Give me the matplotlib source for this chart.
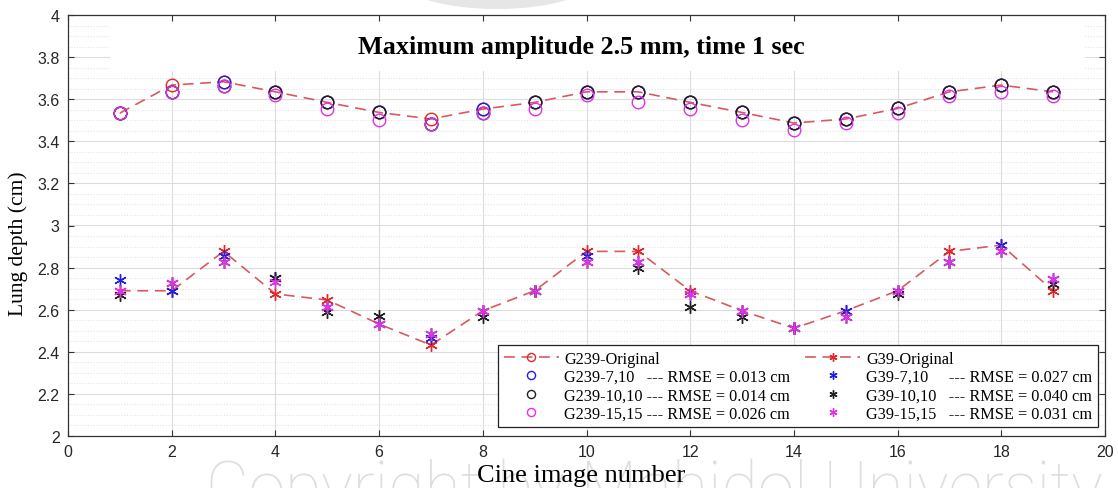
import matplotlib
matplotlib.use("Agg")
import matplotlib.pyplot as plt
from matplotlib.patches import Rectangle, Ellipse
from matplotlib.ticker import MultipleLocator, FormatStrFormatter
import numpy as np

# Cine image frame numbers
frames = list(range(1, 20))

# Lung depth (cm) of the G239 marker: original and three reconstructions
g239_original = [3.534, 3.667, 3.683, 3.635, 3.585, 3.537, 3.506, 3.553, 3.585, 3.635,
                 3.635, 3.585, 3.537, 3.487, 3.506, 3.556, 3.635, 3.667, 3.635]
g239_7_10 = [3.534, 3.635, 3.683, 3.635, 3.585, 3.537, 3.480, 3.553, 3.585, 3.635,
             3.635, 3.585, 3.537, 3.487, 3.506, 3.556, 3.635, 3.667, 3.635]
g239_10_10 = [3.534, 3.635, 3.664, 3.635, 3.585, 3.537, 3.480, 3.534, 3.585, 3.635,
              3.635, 3.585, 3.537, 3.487, 3.506, 3.556, 3.635, 3.667, 3.635]
g239_15_15 = [3.534, 3.635, 3.664, 3.620, 3.553, 3.500, 3.480, 3.534, 3.553, 3.620,
              3.585, 3.553, 3.500, 3.455, 3.485, 3.534, 3.615, 3.635, 3.615]

# Lung depth (cm) of the G39 marker: original and three reconstructions
g39_original = [2.690, 2.690, 2.877, 2.675, 2.646, 2.532, 2.432, 2.595, 2.690, 2.877,
                2.877, 2.690, 2.595, 2.512, 2.595, 2.690, 2.877, 2.907, 2.690]
g39_7_10 = [2.742, 2.690, 2.857, 2.749, 2.614, 2.532, 2.464, 2.595, 2.690, 2.857,
            2.825, 2.675, 2.595, 2.512, 2.595, 2.690, 2.825, 2.907, 2.745]
g39_10_10 = [2.670, 2.725, 2.825, 2.749, 2.590, 2.568, 2.485, 2.564, 2.690, 2.825,
             2.800, 2.614, 2.564, 2.512, 2.564, 2.675, 2.825, 2.877, 2.722]
g39_15_15 = [2.690, 2.725, 2.825, 2.730, 2.614, 2.532, 2.485, 2.595, 2.690, 2.825,
             2.825, 2.675, 2.595, 2.512, 2.564, 2.690, 2.825, 2.877, 2.745]

labels_g239 = ["G239-Original",
               "G239-7,10   --- RMSE = 0.013 cm",
               "G239-10,10 --- RMSE = 0.014 cm",
               "G239-15,15 --- RMSE = 0.026 cm"]
labels_g39 = ["G39-Original",
              "G39-7,10     --- RMSE = 0.027 cm",
              "G39-10,10   --- RMSE = 0.040 cm",
              "G39-15,15   --- RMSE = 0.031 cm"]

title_text = "Maximum amplitude 2.5 mm, time 1 sec"
xlabel_text = "Cine image number"
ylabel_text = "Lung depth (cm)"
watermark_text = "Copyright by Mahidol University"

serif = "Liberation Serif"
sans = "Liberation Sans"

fig = plt.figure(figsize=(11.18, 4.89), dpi=100)
ax = fig.add_axes([68 / 1118, 1 - 437 / 489, 1037 / 1118, 421 / 489])

# faint watermark behind everything
fig.text(206 / 1118, -20 / 489, watermark_text, fontsize=47.5, family=["Roboto", sans],
         fontweight="light", color="#dedede", ha="left", va="baseline", zorder=-1)
fig.patches.append(Ellipse((497 / 1118, 1 + 22 / 489), 200 / 1118, 64 / 489,
                           transform=fig.transFigure, facecolor="#e6e6e6",
                           edgecolor="none", zorder=-1))

ax.set_xlim(0, 20)
ax.set_ylim(2, 4)
ax.xaxis.set_major_locator(MultipleLocator(2))
ax.yaxis.set_major_locator(MultipleLocator(0.2))
ax.yaxis.set_major_formatter(FormatStrFormatter("%g"))

# grid: solid at major ticks, dotted every 0.05 cm
for xv in np.arange(2, 20, 2):
    ax.axvline(xv, color="#dcdcdc", lw=0.8, zorder=0.3)
for yv in np.arange(2.2, 4.0, 0.2):
    ax.axhline(yv, color="#dcdcdc", lw=0.8, zorder=0.3)
for yv in np.arange(2.05, 4.0, 0.05):
    if abs(yv * 5 - round(yv * 5)) > 1e-6:
        ax.axhline(yv, color="#e4e4e4", lw=0.8, ls=(0, (1, 1.5)), zorder=0.3)

# white band behind the title
ax.add_patch(Rectangle((0.0405, 0.867), 0.9405, 0.133, transform=ax.transAxes,
                       facecolor="white", edgecolor="none", zorder=1))
ax.text(0.4955, 0.924, title_text, transform=ax.transAxes, ha="center", va="center",
        fontsize=18.8, fontweight="bold", family=serif, zorder=3)

line_col = "#d85a60"
orig_col = "#e02828"
blue = "#2020e0"
black = "#202020"
magenta = "#e030e8"
star = (6, 2, 0)
dash = (6.5, 4)

handles = []
h, = ax.plot(frames, g239_original, ls="--", dashes=dash, lw=1.2, color=line_col,
             marker="o", ms=9, mfc="none", mec=orig_col, mew=1.0, label=labels_g239[0])
handles.append(h)
for vals, col, lab in [(g239_7_10, blue, labels_g239[1]),
                       (g239_10_10, black, labels_g239[2]),
                       (g239_15_15, magenta, labels_g239[3])]:
    h, = ax.plot(frames, vals, ls="none", marker="o", ms=9, mfc="none", mec=col,
                 mew=1.0, label=lab)
    handles.append(h)

h, = ax.plot(frames, g39_original, ls="--", dashes=dash, lw=1.2, color=line_col,
             marker=star, ms=9, mec=orig_col, mew=1.0, label=labels_g39[0])
handles.append(h)
for vals, col, lab in [(g39_7_10, blue, labels_g39[1]),
                       (g39_10_10, black, labels_g39[2]),
                       (g39_15_15, magenta, labels_g39[3])]:
    h, = ax.plot(frames, vals, ls="none", marker=star, ms=9, mec=col, mew=1.0, label=lab)
    handles.append(h)

leg = ax.legend(handles=handles, ncol=2, loc="lower right",
                bbox_to_anchor=(0.9932, 0.021), borderaxespad=0,
                prop={"family": serif, "size": 11.7}, frameon=True, fancybox=False,
                framealpha=1, edgecolor="#222222", labelspacing=0.14,
                handlelength=3.4, handletextpad=0.35, columnspacing=0.9,
                borderpad=0.35, markerscale=0.65)
leg.get_frame().set_linewidth(0.9)
leg.set_zorder(5)

ax.tick_params(axis="both", which="major", direction="in", length=4.5, width=0.8,
               top=True, right=True, labelsize=11.5, pad=6, color="#333333")
for lab in ax.get_xticklabels() + ax.get_yticklabels():
    lab.set_family(sans)
    lab.set_color("#262626")
for sp in ax.spines.values():
    sp.set_color("#333333")
    sp.set_linewidth(0.9)

ax.set_xlabel(xlabel_text, fontsize=19, family=serif)
ax.set_ylabel(ylabel_text, fontsize=15.5, family=serif)
ax.xaxis.set_label_coords(0.495, -0.066)
ax.yaxis.set_label_coords(-0.048, 0.46)
ax.xaxis.label.set_va("top")
ax.yaxis.label.set_va("center")

fig.savefig("out.png", dpi=100)
